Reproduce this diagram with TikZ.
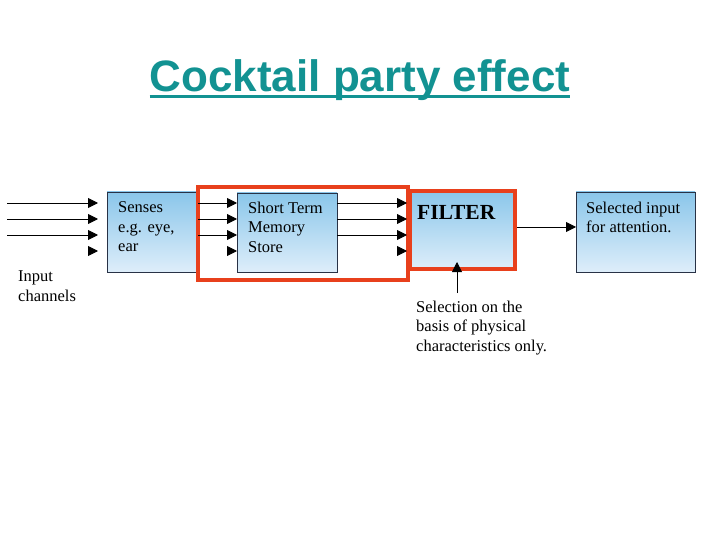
\documentclass[tikz,border=0pt]{standalone}
\usepackage{fontspec}
\setmainfont{Liberation Serif}
\newfontfamily\titlefont{Liberation Sans}
\usetikzlibrary{arrows.meta}
\definecolor{teal1}{RGB}{18,146,146}
\definecolor{redbox}{RGB}{232,64,28}
\definecolor{boxtop}{RGB}{138,198,234}
\definecolor{boxbot}{RGB}{222,238,250}
\definecolor{boxline}{RGB}{40,50,70}
\tikzset{
  bluebox/.style={draw=boxline, line width=0.8pt, top color=boxtop, bottom color=boxbot, inner sep=0pt},
  redframe/.style={draw=redbox, line width=4pt},
  lbl/.style={anchor=north west, inner sep=0pt, align=left, font=\fontsize{16.5}{19.5}\selectfont, text=black},
  arr/.style={line width=0.9pt, -{Triangle[length=10pt,width=10pt]}},
}
\begin{document}
\begin{tikzpicture}[x=1pt,y=-1pt]
\useasboundingbox (0,0) rectangle (720,540);
% title
\node[anchor=base, inner sep=0pt, text=teal1, font=\titlefont\bfseries\fontsize{44}{48}\selectfont] (title) at (360,92) {Cocktail party effect};
\draw[teal1, line width=3pt] (title.base west) ++(0,5) -- ([yshift=-5pt]title.base east);
% boxes
\path[bluebox] (107,192) rectangle (196,272);
\path[bluebox] (237,193) rectangle (337,272);
\path[bluebox, draw=none] (410,191) rectangle (515,269);
\draw[redframe] (410,191) rectangle (515,269);
\path[bluebox] (576,192) rectangle (695,272);
\draw[redframe] (198,187) rectangle (408,280);
% labels
\node[lbl] (senseslbl) at (118,201.5) {Senses\\e.g. eye,\\ear};
\node[lbl] (stmlbl) at (248,201.5) {Short Term\\Memory\\Store};
\node[lbl] (sellbl) at (586,201.5) {Selected input\\for attention.};
\node[anchor=base west, inner sep=0pt, font=\bfseries\fontsize{21.5}{24}\selectfont, text=black] (filter) at (417,219) {FILTER};
\node[lbl] (selection) at (416,300.5) {Selection on the\\basis of physical\\characteristics only.};
\node[lbl] (input) at (18,270.5) {Input\\channels};
% input arrows
\foreach \y in {203,219,235} {
  \draw[arr] (7,\y) -- (98,\y);
  \draw[arr] (198,\y) -- (237,\y);
  \draw[arr] (337,\y) -- (407,\y);
}
\draw[arr] (88,251) -- (98,251);
\draw[arr] (227,251) -- (237,251);
\draw[arr] (397,251) -- (407,251);
% output arrow
\coordinate (filterE) at (517,227);
\coordinate (selW) at (576,227);
\draw[arr] (filterE) -- (selW);
% selection arrow
\coordinate (selTop) at (457,293);
\coordinate (filterB) at (457,262);
\draw[arr] (selTop) -- (filterB);
\end{tikzpicture}
\end{document}
